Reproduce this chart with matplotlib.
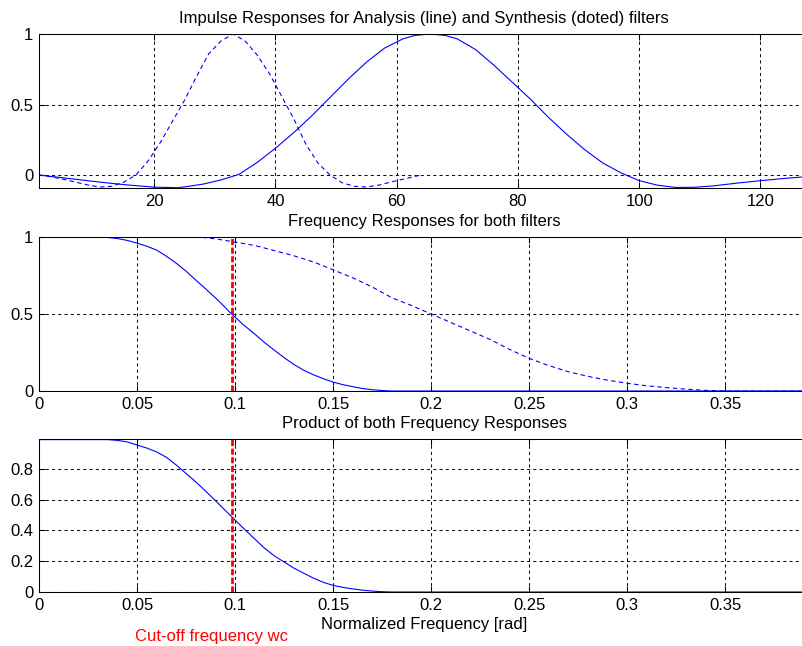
import matplotlib.pyplot as plt
import numpy as np

plt.rcParams['font.family'] = ['Liberation Sans', 'DejaVu Sans']
plt.rcParams['font.size'] = 12

# 冲激响应：分析滤波器（实线，128 点）
analysis_n = [1, 4, 8, 12, 16, 20, 24, 28, 31, 34, 37, 40, 43, 46, 49, 52, 55, 58,
              61, 63, 65.5, 68, 70, 73, 76, 79, 82, 85, 88, 91, 94, 97, 100, 103,
              106, 109, 112, 116, 120, 124, 128]
analysis_h = [0.0, -0.015, -0.035, -0.055, -0.072, -0.086, -0.09, -0.065, -0.035,
              0.005, 0.09, 0.19, 0.30, 0.42, 0.55, 0.68, 0.80, 0.90, 0.965, 0.99,
              1.0, 0.99, 0.965, 0.89, 0.78, 0.66, 0.54, 0.41, 0.29, 0.18, 0.085,
              0.015, -0.04, -0.072, -0.088, -0.087, -0.078, -0.058, -0.04, -0.024,
              -0.01]

# 冲激响应：综合滤波器（虚线，64 点）
synth_n = [1, 3, 5, 7, 9, 11, 13, 15, 17, 19, 21, 23, 25, 27, 29, 31, 33, 35, 37,
           39, 41, 43, 45, 47, 49, 51, 53, 55, 57, 59, 61, 63, 64]
synth_h = [0.0, -0.012, -0.03, -0.05, -0.07, -0.085, -0.08, -0.05, 0.0, 0.10, 0.23,
           0.38, 0.53, 0.70, 0.86, 0.95, 1.0, 0.95, 0.85, 0.72, 0.56, 0.40, 0.22,
           0.085, 0.0, -0.055, -0.08, -0.085, -0.072, -0.05, -0.03, -0.01, 0.0]

# 频率响应
wc = 0.0982                       # 截止频率
f_end = 0.3927

fa = [0, 0.03, 0.035, 0.04, 0.045, 0.05, 0.055, 0.06, 0.065, 0.07, 0.075, 0.08,
      0.085, 0.09, 0.094, 0.0982, 0.104, 0.11, 0.115, 0.12, 0.125, 0.13, 0.135,
      0.14, 0.145, 0.15, 0.155, 0.16, 0.165, 0.17, 0.175, 0.18, f_end]
Ha = [1.0, 1.0, 0.997, 0.99, 0.978, 0.96, 0.94, 0.915, 0.875, 0.83, 0.778, 0.72,
      0.663, 0.605, 0.555, 0.5, 0.433, 0.37, 0.315, 0.265, 0.217, 0.172, 0.135,
      0.105, 0.08, 0.058, 0.041, 0.028, 0.016, 0.008, 0.003, 0.0, 0.0]

fs = [0, 0.08, 0.085, 0.09, 0.095, 0.1, 0.11, 0.12, 0.13, 0.14, 0.15, 0.16, 0.17,
      0.18, 0.19, 0.2, 0.21, 0.22, 0.23, 0.24, 0.25, 0.26, 0.27, 0.28, 0.29, 0.3,
      0.31, 0.32, 0.33, 0.34, 0.35, f_end]
Hs = [1.0, 1.0, 0.995, 0.988, 0.978, 0.967, 0.945, 0.912, 0.878, 0.838, 0.787,
      0.735, 0.675, 0.605, 0.555, 0.5, 0.445, 0.39, 0.335, 0.27, 0.212, 0.165,
      0.125, 0.095, 0.07, 0.05, 0.034, 0.022, 0.012, 0.004, 0.0, 0.0]

# 两个频率响应的乘积
fp = [0, 0.035, 0.04, 0.045, 0.05, 0.055, 0.06, 0.065, 0.07, 0.075, 0.08, 0.085,
      0.09, 0.095, 0.0986, 0.105, 0.11, 0.115, 0.12, 0.125, 0.13, 0.135, 0.14,
      0.145, 0.15, 0.155, 0.16, 0.165, 0.17, 0.175, 0.18, f_end]
Hp = [0.99, 0.99, 0.985, 0.975, 0.955, 0.935, 0.91, 0.875, 0.825, 0.77, 0.715,
      0.655, 0.593, 0.53, 0.485, 0.405, 0.345, 0.285, 0.235, 0.195, 0.155, 0.122,
      0.09, 0.063, 0.043, 0.03, 0.02, 0.012, 0.006, 0.002, 0.0, 0.0]

fig = plt.figure(figsize=(8.02, 6.46), dpi=100)
W, H = 802, 646
left, width = 39 / W, 770 / W
ax1 = fig.add_axes([left, 1 - 188 / H, width, 154 / H])
ax2 = fig.add_axes([left, 1 - 391 / H, width, 154 / H])
ax3 = fig.add_axes([left, 1 - 592 / H, width, 153 / H])

blue = '#0000ff'
red = '#ff0000'
dash = (0, (4, 3))
red_dash = (0, (2.2, 0.9))

ax1.plot(analysis_n, analysis_h, color=blue, lw=0.8)
ax1.plot(synth_n, synth_h, color=blue, lw=0.8, linestyle=dash)
ax1.set_xlim(1, 128)
ax1.set_ylim(-0.092, 1)
ax1.set_xticks([20, 40, 60, 80, 100, 120])
ax1.set_yticks([0, 0.5, 1])
ax1.set_yticklabels(['0', '0.5', '1'])
ax1.set_title('Impulse Responses for Analysis (line) and Synthesis (doted) filters',
              fontsize=12, pad=8)

ax2.plot(fa, Ha, color=blue, lw=0.8)
ax2.plot(fs, Hs, color=blue, lw=0.8, linestyle=dash)
ax2.axvline(wc, color=red, lw=2.0, linestyle=red_dash)
ax2.set_xlim(0, f_end)
ax2.set_ylim(0, 1)
ax2.set_yticks([0, 0.5, 1])
ax2.set_yticklabels(['0', '0.5', '1'])
ax2.set_title('Frequency Responses for both filters', fontsize=12, pad=8)

ax3.plot(fp, Hp, color=blue, lw=0.8)
ax3.axvline(wc, color=red, lw=2.0, linestyle=red_dash)
ax3.set_xlim(0, f_end)
ax3.set_ylim(0, 0.994)
ax3.set_yticks([0, 0.2, 0.4, 0.6, 0.8])
ax3.set_yticklabels(['0', '0.2', '0.4', '0.6', '0.8'])
ax3.set_title('Product of both Frequency Responses', fontsize=12, pad=8)
ax3.set_xlabel('Normalized Frequency [rad]', fontsize=12, labelpad=3)
ax3.text(wc / 2, -0.29, 'Cut-off frequency wc', color=red, fontsize=12,
         ha='left', va='center')

for ax in (ax2, ax3):
    ax.set_xticks([0, 0.05, 0.1, 0.15, 0.2, 0.25, 0.3, 0.35])
    ax.set_xticklabels(['0', '0.05', '0.1', '0.15', '0.2', '0.25', '0.3', '0.35'])

for ax in (ax1, ax2, ax3):
    ax.grid(True, color='#111111', lw=0.75, linestyle=(0, (3, 3)))
    ax.set_axisbelow(True)
    ax.tick_params(direction='in', top=True, right=True, length=4, width=0.75,
                   labelsize=12)
    ax.tick_params(axis='x', pad=4)
    ax.tick_params(axis='y', pad=4)
    for s in ax.spines.values():
        s.set_linewidth(0.75)

fig.savefig('out.png', dpi=100)
